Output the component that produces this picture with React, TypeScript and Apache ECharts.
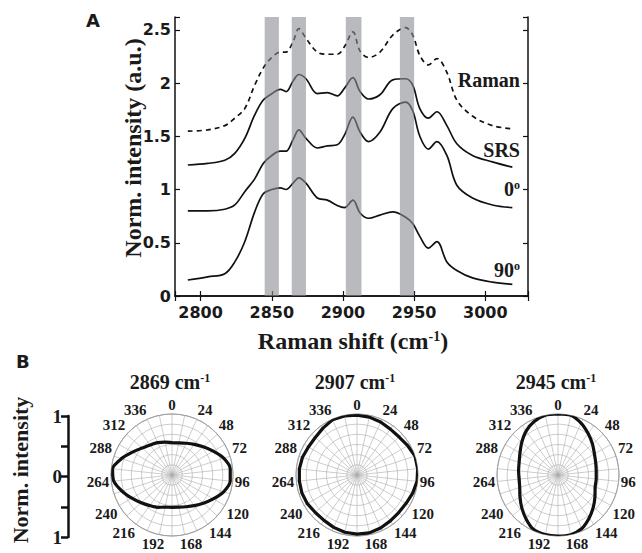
import React, { useEffect, useRef } from 'react';
import * as echarts from 'echarts';

const SERIF = "'Liberation Serif', 'Times New Roman', serif";
const SANS = "'DejaVu Sans', sans-serif";

// Raman shift sample positions (cm-1)
const ramanShift = [2791, 2805, 2817, 2824, 2831, 2838, 2844, 2850, 2856, 2860, 2865, 2869, 2874, 2882, 2889, 2896, 2901, 2907, 2912, 2918, 2926, 2935, 2944, 2949, 2954, 2960, 2966, 2973, 2980, 2991, 3005, 3019];
const ramanVals = [1.548, 1.56, 1.6, 1.67, 1.76, 1.98, 2.14, 2.24, 2.29, 2.29, 2.39, 2.51, 2.42, 2.29, 2.27, 2.27, 2.34, 2.48, 2.3, 2.24, 2.29, 2.45, 2.52, 2.45, 2.26, 2.17, 2.23, 2.1, 1.84, 1.69, 1.6, 1.57];
const srsVals = [1.23, 1.245, 1.275, 1.34, 1.48, 1.7, 1.84, 1.9, 1.94, 1.92, 2.02, 2.08, 2.04, 1.9, 1.91, 1.88, 1.95, 2.05, 1.92, 1.85, 1.89, 2.03, 2.04, 1.98, 1.76, 1.67, 1.73, 1.6, 1.43, 1.32, 1.26, 1.21];
const deg0Vals = [0.8, 0.8, 0.815, 0.855, 0.98, 1.1, 1.245, 1.32, 1.36, 1.36, 1.47, 1.56, 1.48, 1.39, 1.41, 1.42, 1.51, 1.68, 1.54, 1.45, 1.54, 1.76, 1.82, 1.74, 1.5, 1.38, 1.45, 1.32, 1.04, 0.92, 0.855, 0.83];
const deg90Vals = [0.15, 0.18, 0.21, 0.32, 0.51, 0.79, 0.96, 1.0, 1.015, 1.0, 1.06, 1.11, 1.06, 0.92, 0.9, 0.85, 0.83, 0.9, 0.78, 0.73, 0.76, 0.79, 0.74, 0.68, 0.56, 0.45, 0.51, 0.32, 0.24, 0.17, 0.13, 0.11];

// highlighted bands (cm-1)
const bandRanges = [[2845, 2855], [2864, 2874], [2902, 2913], [2940, 2950]];

// polarization angles (deg) and normalized intensities
const polarAngles = [0, 12, 24, 36, 48, 60, 72, 84, 96, 108, 120, 132, 144, 156, 168, 180, 192, 204, 216, 228, 240, 252, 264, 276, 288, 300, 312, 324, 336, 348];
const r2869 = [0.53, 0.54, 0.57, 0.62, 0.69, 0.78, 0.89, 0.96, 0.96, 0.89, 0.78, 0.69, 0.62, 0.57, 0.54, 0.53, 0.54, 0.58, 0.62, 0.68, 0.76, 0.86, 0.96, 0.98, 0.87, 0.75, 0.66, 0.61, 0.58, 0.55];
const r2907 = [0.98, 0.97, 0.95, 0.93, 0.93, 0.96, 1.0, 1.0, 0.99, 0.96, 0.93, 0.92, 0.93, 0.95, 0.97, 0.97, 0.96, 0.94, 0.92, 0.92, 0.94, 0.95, 0.95, 0.95, 0.94, 0.92, 0.92, 0.95, 0.99, 0.99];
const r2945 = [1.0, 1.0, 0.93, 0.84, 0.76, 0.69, 0.65, 0.63, 0.63, 0.64, 0.7, 0.78, 0.87, 0.96, 1.0, 1.0, 1.0, 0.98, 0.89, 0.8, 0.72, 0.66, 0.64, 0.65, 0.67, 0.72, 0.8, 0.89, 0.96, 1.0];
const polarTitles = ['2869', '2907', '2945'];

const seriesLabels = [
  { text: 'Raman', y: 80 },
  { text: 'SRS', y: 150 },
  { text: '0{sup|o}', y: 189 },
  { text: '90{sup|o}', y: 270 },
];

export default function App() {
  const ref = useRef<HTMLDivElement>(null);
  useEffect(() => {
    const chart = echarts.init(ref.current!, null, { renderer: 'svg' });
    const pair = (vals: number[]) => ramanShift.map((x, i) => [x, vals[i]]);
    const polarPair = (vals: number[]) => {
      const d = polarAngles.map((a, i) => [vals[i], a]);
      d.push([vals[0], 360]);
      return d;
    };
    const lineBase = (name: string, vals: number[], dashed = false) => ({
      name,
      type: 'line',
      xAxisIndex: 0,
      yAxisIndex: 0,
      data: pair(vals),
      showSymbol: false,
      smooth: 0.35,
      lineStyle: { color: '#111', width: 1.7, type: dashed ? [5, 4] : 'solid' },
      z: 2,
    });
    const supRich = {
      sup: { fontSize: 12, fontFamily: SERIF, fontWeight: 'bold', verticalAlign: 'top', color: '#1a1a1a' },
    };
    const frameLine = { show: true, lineStyle: { color: '#111', width: 1.5 } };
    const axisLabelSans = { fontFamily: SANS, fontWeight: 'bold', fontSize: 16, color: '#1a1a1a' };
    const polarCenters = [[172, 475], [357, 475], [558, 475]];
    const angLabelFont = { fontFamily: SERIF, fontWeight: 'bold', fontSize: 15, color: '#1a1a1a' };

    const option: any = {
      animation: false,
      grid: [
        { left: 175, right: 114, top: 17, bottom: 257, containLabel: false },
        { left: 68, top: 416, width: 1, height: 121, containLabel: false },
      ],
      xAxis: [
        {
          gridIndex: 0, type: 'value', min: 2782, max: 3030, position: 'bottom',
          axisLine: frameLine, axisTick: { inside: true, length: 5, lineStyle: { color: '#111', width: 1.2 } },
          axisLabel: { ...axisLabelSans, margin: 8, formatter: (v: number) => (v % 50 === 0 ? String(v) : '') },
          splitLine: { show: false },
        },
        {
          gridIndex: 0, type: 'value', min: 2782, max: 3030, position: 'top',
          axisLine: frameLine, axisTick: { inside: true, length: 5, lineStyle: { color: '#111', width: 1.2 } },
          axisLabel: { show: false }, splitLine: { show: false },
        },
        { gridIndex: 1, type: 'value', show: false, min: 0, max: 1 },
      ],
      yAxis: [
        {
          gridIndex: 0, type: 'value', min: 0, max: 2.62, position: 'left',
          axisLine: frameLine, axisTick: { inside: true, length: 5, lineStyle: { color: '#111', width: 1.2 } },
          axisLabel: { ...axisLabelSans, margin: 4, formatter: (v: number) => (Math.abs(v * 2 - Math.round(v * 2)) < 1e-6 ? String(v) : '') },
          splitLine: { show: false },
        },
        {
          gridIndex: 0, type: 'value', min: 0, max: 2.62, position: 'right',
          axisLine: frameLine, axisTick: { inside: true, length: 5, lineStyle: { color: '#111', width: 1.2 } },
          axisLabel: { show: false }, splitLine: { show: false },
        },
        {
          gridIndex: 1, type: 'value', min: -1, max: 1, interval: 0.5, position: 'left',
          axisLine: { show: true, lineStyle: { color: '#111', width: 2.5 } },
          axisTick: { show: true, inside: false, length: 7, lineStyle: { color: '#111', width: 2.5 } },
          axisLabel: {
            fontFamily: SERIF, fontWeight: 'bold', fontSize: 19, color: '#1a1a1a', margin: 6,
            formatter: (v: number) => (v === 0 ? '0' : Math.abs(v) === 1 ? '1' : ''),
          },
          splitLine: { show: false },
        },
      ],
      polar: polarCenters.map((c) => ({ center: c, radius: 61 })),
      angleAxis: polarCenters.map((_, i) => ({
        polarIndex: i, type: 'value', min: 0, max: 360, interval: 12, startAngle: 90, clockwise: true,
        axisLine: { show: true, lineStyle: { color: '#9a9a9a', width: 0.8 } },
        axisTick: { show: false },
        axisLabel: {
          ...angLabelFont, margin: 2,
          formatter: (v: number) => {
            if (!(v % 24 === 0 && v < 360)) return '';
            if (v === 192) return `{l|${v}}`;
            if (v === 168) return `{r|${v}}`;
            return String(v);
          },
          rich: {
            l: { ...angLabelFont, padding: [0, 12, 0, 0] },
            r: { ...angLabelFont, padding: [0, 0, 0, 12] },
          },
        },
        splitLine: { show: true, lineStyle: { color: '#ababab', width: 0.6 } },
      })),
      radiusAxis: polarCenters.map((_, i) => ({
        polarIndex: i, type: 'value', min: 0, max: 1, interval: 1 / 6,
        axisLine: { show: false }, axisTick: { show: false }, axisLabel: { show: false },
        splitLine: { show: true, lineStyle: { color: '#ababab', width: 0.6 } },
      })),
      series: [
        lineBase('Raman', ramanVals, true),
        lineBase('SRS', srsVals),
        lineBase('0', deg0Vals),
        lineBase('90', deg90Vals),
        {
          type: 'custom', xAxisIndex: 0, yAxisIndex: 0, z: 10, silent: true,
          encode: { x: [0, 1] },
          data: bandRanges,
          renderItem: (params: any, api: any) => {
            const p0 = api.coord([api.value(0), 2.62]);
            const p1 = api.coord([api.value(1), 0]);
            return {
              type: 'rect',
              shape: { x: p0[0], y: p0[1], width: p1[0] - p0[0], height: p1[1] - p0[1] },
              style: { fill: 'rgba(138,140,147,0.6)' },
            };
          },
        },
        ...[r2869, r2907, r2945].map((vals, i) => ({
          type: 'line', coordinateSystem: 'polar', polarIndex: i,
          data: polarPair(vals), showSymbol: false, smooth: i === 1 ? 0 : 0.25,
          lineStyle: { color: '#111', width: 3.2 }, z: 5,
        })),
      ],
      graphic: [
        { type: 'text', left: 86, top: 11, style: { text: 'A', font: `bold 18px ${SANS}`, fill: '#1a1a1a' } },
        { type: 'text', left: 16, top: 352, style: { text: 'B', font: `bold 18px ${SANS}`, fill: '#1a1a1a' } },
        {
          type: 'text', x: 133, y: 148, rotation: Math.PI / 2,
          style: { text: 'Norm. intensity (a.u.)', font: `bold 24px ${SERIF}`, fill: '#1a1a1a', align: 'center', verticalAlign: 'middle' },
        },
        {
          type: 'text', x: 353, y: 341,
          style: {
            text: 'Raman shift (cm{sup|-1})', font: `bold 24px ${SERIF}`, fill: '#1a1a1a', align: 'center', verticalAlign: 'middle',
            rich: { sup: { fontSize: 14, fontFamily: SERIF, fontWeight: 'bold', verticalAlign: 'top', fill: '#1a1a1a' } },
          },
        },
        ...seriesLabels.map((l) => ({
          type: 'text', x: 520, y: l.y,
          style: {
            text: l.text, font: `bold 20px ${SERIF}`, fill: '#1a1a1a', align: 'right', verticalAlign: 'middle',
            rich: supRich,
          },
        })),
        ...polarTitles.map((t, i) => ({
          type: 'text', x: polarCenters[i][0] - 2, y: 382,
          style: {
            text: `${t} cm{sup|-1}`, font: `bold 20px ${SERIF}`, fill: '#1a1a1a', align: 'center', verticalAlign: 'middle',
            rich: { sup: { fontSize: 12, fontFamily: SERIF, fontWeight: 'bold', verticalAlign: 'top', fill: '#1a1a1a' } },
          },
        })),
        {
          type: 'text', x: 20, y: 470, rotation: Math.PI / 2,
          style: { text: 'Norm. intensity', font: `bold 22px ${SERIF}`, fill: '#1a1a1a', align: 'center', verticalAlign: 'middle' },
        },
      ],
    };
    chart.setOption(option);
    return () => chart.dispose();
  }, []);
  return <div ref={ref} style={{ position: 'fixed', left: 0, top: 0, width: 642, height: 553, background: '#fff' }} />;
}
